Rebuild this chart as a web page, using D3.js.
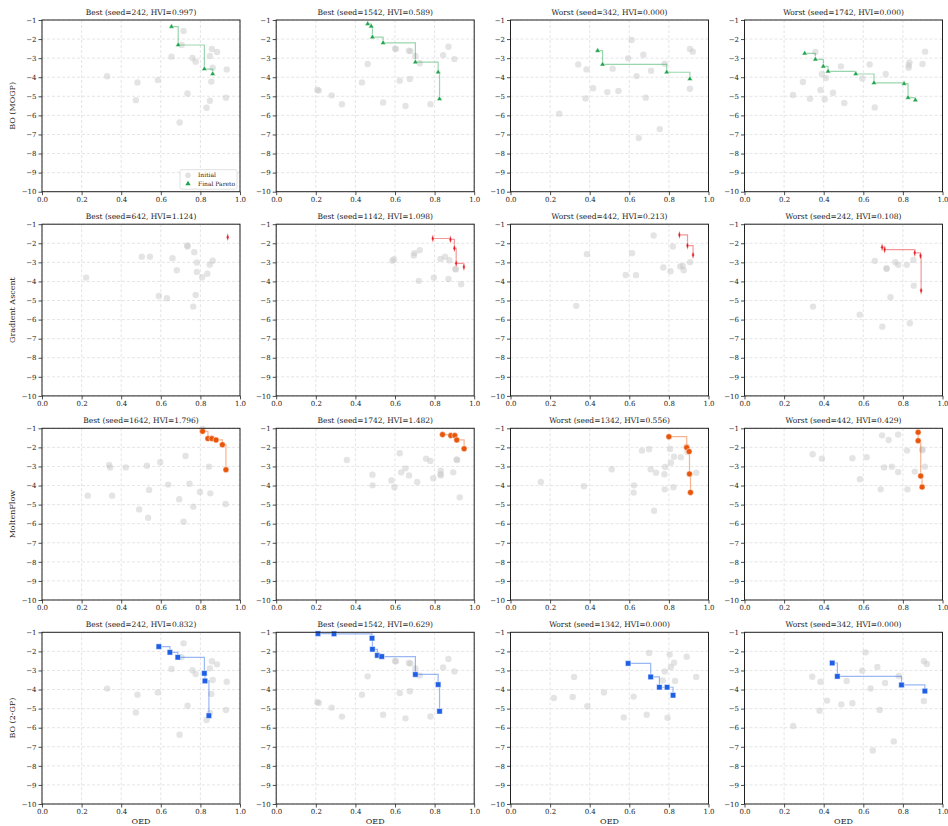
<!DOCTYPE html>
<meta charset="utf-8">
<script src="https://d3js.org/d3.v7.min.js"></script>
<style>
  body { margin: 0; background: #fff; }
  text { font-family: "DejaVu Serif", serif; fill: #222; }
</style>
<div id="my_dataviz"></div>
<script>
// ---- data: [OED, objective] pairs ----
// initial samples per seed / method
var initBO242 = [[0.329,-3.95],[0.482,-4.27],[0.474,-5.2],[0.585,-4.15],[0.654,-2.92],[0.705,-2.31],[0.715,-1.58],
  [0.76,-2.99],[0.776,-3.19],[0.735,-4.85],[0.695,-6.37],[0.858,-2.52],[0.848,-2.89],[0.884,-2.68],[0.862,-3.5],
  [0.855,-4.23],[0.848,-5.23],[0.831,-5.6],[0.933,-3.59],[0.929,-5.07]];
var initBO1542 = [[0.208,-4.66],[0.215,-4.7],[0.28,-4.95],[0.332,-5.42],[0.433,-4.27],[0.462,-3.31],[0.54,-5.32],
  [0.6,-2.5],[0.605,-2.52],[0.624,-4.18],[0.653,-5.51],[0.67,-2.61],[0.678,-2.63],[0.675,-4.09],[0.703,-2.89],
  [0.725,-3.27],[0.779,-5.41],[0.843,-2.84],[0.87,-2.4],[0.9,-3.05]];
var initBO342 = [[0.246,-5.91],[0.342,-3.33],[0.384,-3.59],[0.379,-5.11],[0.417,-4.58],[0.489,-4.78],[0.516,-3.55],
  [0.545,-4.72],[0.594,-3.01],[0.612,-2.05],[0.637,-3.94],[0.648,-7.19],[0.671,-2.82],[0.683,-5.07],[0.71,-3.66],
  [0.754,-6.72],[0.779,-3.29],[0.906,-2.52],[0.921,-2.66],[0.906,-4.6]];
var initBO1742 = [[0.245,-4.93],[0.295,-4.25],[0.331,-5.13],[0.358,-2.68],[0.384,-4.67],[0.391,-3.83],[0.405,-5.16],
  [0.411,-4.04],[0.447,-4.81],[0.487,-3.43],[0.504,-5.35],[0.595,-4.06],[0.632,-3.33],[0.658,-5.58],[0.713,-3.83],
  [0.833,-3.22],[0.829,-3.37],[0.829,-3.5],[0.899,-3.31],[0.912,-2.66]];
var initGA642 = [[0.223,-3.8],[0.504,-2.7],[0.545,-2.7],[0.659,-2.78],[0.681,-3.41],[0.59,-4.76],[0.631,-4.88],
  [0.734,-2.12],[0.735,-2.17],[0.769,-2.47],[0.782,-3.01],[0.782,-3.5],[0.809,-3.78],[0.764,-5.32],[0.776,-4.71],
  [0.835,-3.6],[0.847,-3.12],[0.862,-2.91]];
var initGA1142 = [[0.587,-2.91],[0.595,-2.84],[0.695,-2.64],[0.698,-2.52],[0.725,-2.36],[0.72,-3.97],[0.796,-3.8],
  [0.83,-2.82],[0.853,-2.71],[0.875,-2.89],[0.87,-3.87],[0.905,-3.34],[0.907,-3.37],[0.934,-4.15]];
var initGA442 = [[0.332,-5.28],[0.386,-2.57],[0.582,-3.66],[0.614,-2.52],[0.634,-3.67],[0.723,-1.59],[0.772,-3.27],
  [0.808,-3.47],[0.82,-2.17],[0.857,-3.22],[0.87,-3.19],[0.875,-3.41],[0.907,-2.99]];
var initGA242 = [[0.346,-5.32],[0.582,-5.74],[0.658,-2.92],[0.696,-6.37],[0.717,-3.31],[0.718,-3.34],[0.737,-4.83],
  [0.762,-2.99],[0.776,-3.13],[0.82,-3.13],[0.853,-2.87],[0.855,-4.22],[0.835,-6.19]];
var initMF1642 = [[0.231,-4.53],[0.339,-2.92],[0.344,-3.06],[0.354,-4.53],[0.423,-3.05],[0.491,-5.25],[0.53,-2.96],
  [0.541,-4.23],[0.536,-5.69],[0.597,-2.78],[0.637,-3.95],[0.693,-4.72],[0.715,-5.9],[0.725,-2.45],[0.745,-3.9],
  [0.764,-5.11],[0.798,-4.34],[0.843,-3.01],[0.85,-4.41],[0.927,-4.97],[0.811,-1.04]];
var initMF1742 = [[0.357,-2.66],[0.486,-3.43],[0.487,-3.99],[0.582,-3.73],[0.597,-4.09],[0.624,-2.31],[0.631,-3.31],
  [0.653,-3.1],[0.671,-3.47],[0.712,-3.81],[0.757,-2.59],[0.779,-2.71],[0.793,-3.62],[0.831,-3.22],[0.83,-3.4],
  [0.831,-3.47],[0.894,-3.31],[0.911,-2.63],[0.914,-2.66],[0.927,-4.62]];
var initMF1342 = [[0.153,-3.81],[0.371,-4.04],[0.511,-3.15],[0.624,-3.99],[0.622,-4.37],[0.664,-2.17],[0.7,-2.1],
  [0.708,-3.15],[0.735,-3.33],[0.725,-5.32],[0.777,-3.41],[0.781,-3.03],[0.779,-4.2],[0.806,-2.08],[0.81,-2.8],
  [0.826,-2.49],[0.823,-4.09],[0.86,-2.52],[0.938,-3.33],[0.889,-1.96],[0.894,-2.24]];
var initMF442 = [[0.344,-2.36],[0.391,-2.59],[0.545,-2.57],[0.617,-2.52],[0.583,-3.67],[0.695,-1.37],[0.705,-3.05],
  [0.728,-1.61],[0.744,-3.01],[0.776,-1.33],[0.776,-3.29],[0.688,-4.2],[0.823,-4.2],[0.821,-2.17],[0.86,-3.27],
  [0.897,-2.1],[0.899,-2.15],[0.911,-3.01]];
var initGP1342 = [[0.219,-4.44],[0.314,-4.39],[0.321,-3.34],[0.388,-4.88],[0.472,-4.15],[0.572,-5.46],[0.622,-4.37],
  [0.688,-5.32],[0.7,-2.08],[0.769,-3.53],[0.779,-3.05],[0.793,-5.48],[0.804,-2.17],[0.81,-2.82],[0.826,-2.59],
  [0.831,-3.55],[0.89,-2.28],[0.938,-3.34]];

// final pareto fronts
var paretoMOGP242 = [[0.654,-1.35],[0.688,-2.31],[0.82,-3.57],[0.862,-3.83]];
var paretoMOGP1542 = [[0.462,-1.2],[0.48,-1.33],[0.486,-1.9],[0.54,-2.2],[0.703,-3.21],[0.818,-3.74],[0.825,-5.14]];
var paretoMOGP342 = [[0.44,-2.61],[0.465,-3.33],[0.789,-3.74],[0.906,-4.09]];
var paretoMOGP1742 = [[0.304,-2.75],[0.358,-3.06],[0.398,-3.43],[0.422,-3.69],[0.562,-3.83],[0.654,-4.3],[0.806,-4.34],[0.826,-5.07],[0.863,-5.2]];
var paretoGA642 = [[0.938,-1.68]];
var paretoGA1142 = [[0.791,-1.75],[0.88,-1.8],[0.9,-2.26],[0.909,-3.05],[0.948,-3.24]];
var paretoGA442 = [[0.853,-1.56],[0.894,-2.12],[0.922,-2.61]];
var paretoGA242 = [[0.695,-2.21],[0.708,-2.33],[0.86,-2.5],[0.889,-2.66],[0.892,-4.48]];
var paretoMF1642 = [[0.811,-1.16],[0.838,-1.54],[0.858,-1.54],[0.879,-1.61],[0.911,-1.86],[0.929,-3.17]];
var paretoMF1742 = [[0.84,-1.33],[0.882,-1.38],[0.902,-1.38],[0.912,-1.61],[0.949,-2.07]];
var paretoMF1342 = [[0.8,-1.44],[0.89,-2.01],[0.902,-2.22],[0.904,-3.39],[0.909,-4.36]];
var paretoMF442 = [[0.877,-1.21],[0.877,-1.65],[0.89,-3.5],[0.897,-4.08]];
var paretoGP242 = [[0.59,-1.75],[0.646,-2.05],[0.686,-2.31],[0.82,-3.15],[0.823,-3.55],[0.843,-5.37]];
var paretoGP1542 = [[0.211,-1.07],[0.292,-1.08],[0.484,-1.31],[0.486,-1.89],[0.511,-2.21],[0.533,-2.27],[0.703,-3.21],[0.818,-3.74],[0.825,-5.14]];
var paretoGP1342 = [[0.594,-2.63],[0.708,-3.34],[0.752,-3.88],[0.791,-3.88],[0.821,-4.3]];
var paretoGP342 = [[0.443,-2.61],[0.469,-3.31],[0.793,-3.76],[0.911,-4.08]];

var methods = ["BO (MOGP)", "Gradient Ascent", "MoltenFlow", "BO (2-GP)"];
var methodColors = ["#1fa34a", "#e4191f", "#e8560c", "#1f5fe6"];
var methodSymbols = ["triangle", "diamond", "circle", "square"];

var panelTitles = [
  ["Best (seed=242, HVI=0.997)", "Best (seed=1542, HVI=0.589)", "Worst (seed=342, HVI=0.000)", "Worst (seed=1742, HVI=0.000)"],
  ["Best (seed=642, HVI=1.124)", "Best (seed=1142, HVI=1.098)", "Worst (seed=442, HVI=0.213)", "Worst (seed=242, HVI=0.108)"],
  ["Best (seed=1642, HVI=1.796)", "Best (seed=1742, HVI=1.482)", "Worst (seed=1342, HVI=0.556)", "Worst (seed=442, HVI=0.429)"],
  ["Best (seed=242, HVI=0.832)", "Best (seed=1542, HVI=0.629)", "Worst (seed=1342, HVI=0.000)", "Worst (seed=342, HVI=0.000)"]
];
var panelInit = [
  [initBO242, initBO1542, initBO342, initBO1742],
  [initGA642, initGA1142, initGA442, initGA242],
  [initMF1642, initMF1742, initMF1342, initMF442],
  [initBO242, initBO1542, initGP1342, initBO342]
];
var panelPareto = [
  [paretoMOGP242, paretoMOGP1542, paretoMOGP342, paretoMOGP1742],
  [paretoGA642, paretoGA1142, paretoGA442, paretoGA242],
  [paretoMF1642, paretoMF1742, paretoMF1342, paretoMF442],
  [paretoGP242, paretoGP1542, paretoGP1342, paretoGP342]
];
var xTicks = [0, 0.2, 0.4, 0.6, 0.8, 1.0];
var yTicks = [-10, -9, -8, -7, -6, -5, -4, -3, -2, -1];

// ---- layout ----
var W = 948, H = 826;
var pw = 198, ph = 171.7;
var colLeft = [42, 276.2, 510.5, 744.5];
var rowTop = [20, 224.2, 428.3, 632.3];

var svg = d3.select("#my_dataviz").append("svg")
  .attr("width", W).attr("height", H);

var x = d3.scaleLinear().domain([0, 1]).range([0, pw]);
var y = d3.scaleLinear().domain([-10, -1]).range([ph, 0]);
var fmtY = d => (d < 0 ? "\u2212" : "") + Math.abs(d);

methods.forEach(function(method, r) {
  var color = methodColors[r];
  var sym = methodSymbols[r];
  for (var c = 0; c < 4; c++) {
    var g = svg.append("g").attr("transform", "translate(" + colLeft[c] + "," + rowTop[r] + ")");

    // grid
    g.selectAll(".gx").data(xTicks).enter().append("line")
      .attr("x1", d => x(d)).attr("x2", d => x(d)).attr("y1", 0).attr("y2", ph)
      .attr("stroke", "#dadada").attr("stroke-width", 0.7).attr("stroke-dasharray", "3,2");
    g.selectAll(".gy").data(yTicks).enter().append("line")
      .attr("y1", d => y(d)).attr("y2", d => y(d)).attr("x1", 0).attr("x2", pw)
      .attr("stroke", "#dadada").attr("stroke-width", 0.7).attr("stroke-dasharray", "3,2");

    // axes
    var xa = g.append("g").attr("transform", "translate(0," + ph + ")")
      .call(d3.axisBottom(x).tickValues(xTicks).tickFormat(d3.format(".1f")).tickSize(3.5).tickPadding(2));
    var ya = g.append("g")
      .call(d3.axisLeft(y).tickValues(yTicks).tickFormat(fmtY).tickSize(3.5).tickPadding(2));
    [xa, ya].forEach(function(a) {
      a.select(".domain").remove();
      a.selectAll("line").attr("stroke", "#222").attr("stroke-width", 0.8);
      a.selectAll("text").style("font-family", "DejaVu Serif, serif").style("font-size", "7px").attr("fill", "#222");
    });

    // initial points
    g.selectAll(".init").data(panelInit[r][c]).enter().append("circle")
      .attr("cx", d => x(d[0])).attr("cy", d => y(d[1])).attr("r", 3.2)
      .attr("fill", "#c6c6c6").attr("fill-opacity", 0.48);

    // pareto step line
    var pts = panelPareto[r][c];
    g.append("path").datum(pts)
      .attr("d", d3.line().x(d => x(d[0])).y(d => y(d[1])).curve(d3.curveStepAfter))
      .attr("fill", "none").attr("stroke", color).attr("stroke-opacity", 0.45).attr("stroke-width", 1.2);

    var symType = sym === "triangle" ? d3.symbolTriangle : sym === "square" ? d3.symbolSquare
      : sym === "diamond" ? d3.symbolDiamond : d3.symbolCircle;
    var symSize = sym === "triangle" ? 13 : sym === "square" ? 30 : sym === "diamond" ? 16 : 28;
    g.selectAll(".par").data(pts).enter().append("path")
      .attr("transform", function(d) {
        var t = "translate(" + x(d[0]) + "," + y(d[1]) + ")";
        return sym === "diamond" ? t + " scale(0.6,1.1)" : t;
      })
      .attr("d", d3.symbol().type(symType).size(symSize))
      .attr("fill", color).attr("stroke", "#fff").attr("stroke-width", 0.5);

    // frame
    g.append("rect").attr("width", pw).attr("height", ph)
      .attr("fill", "none").attr("stroke", "#222").attr("stroke-width", 1);

    // title
    g.append("text").attr("x", pw / 2).attr("y", -5).attr("text-anchor", "middle")
      .style("font-size", "7.5px").text(panelTitles[r][c]);

    if (c === 0) {
      g.append("text").attr("transform", "translate(-27," + (ph / 2) + ") rotate(-90)")
        .attr("text-anchor", "middle").style("font-size", "8px").text(method);
    }
    if (r === 3) {
      g.append("text").attr("x", pw / 2).attr("y", ph + 20.5).attr("text-anchor", "middle")
        .style("font-size", "8px").text("OED");
    }

    // legend in first panel
    if (r === 0 && c === 0) {
      var lg = g.append("g").attr("transform", "translate(" + (pw - 60) + "," + (ph - 22) + ")");
      lg.append("rect").attr("width", 57).attr("height", 19.5).attr("rx", 2)
        .attr("fill", "#fff").attr("fill-opacity", 0.85).attr("stroke", "#d8d8d8").attr("stroke-width", 0.8);
      lg.append("circle").attr("cx", 8).attr("cy", 5.5).attr("r", 2.8).attr("fill", "#c6c6c6").attr("fill-opacity", 0.5);
      lg.append("path").attr("transform", "translate(8,14)")
        .attr("d", d3.symbol().type(d3.symbolTriangle).size(12)).attr("fill", color);
      lg.append("text").attr("x", 18).attr("y", 7.8).style("font-size", "6px").text("Initial");
      lg.append("text").attr("x", 18).attr("y", 16.3).style("font-size", "6px").text("Final Pareto");
    }
  }
});
</script>
